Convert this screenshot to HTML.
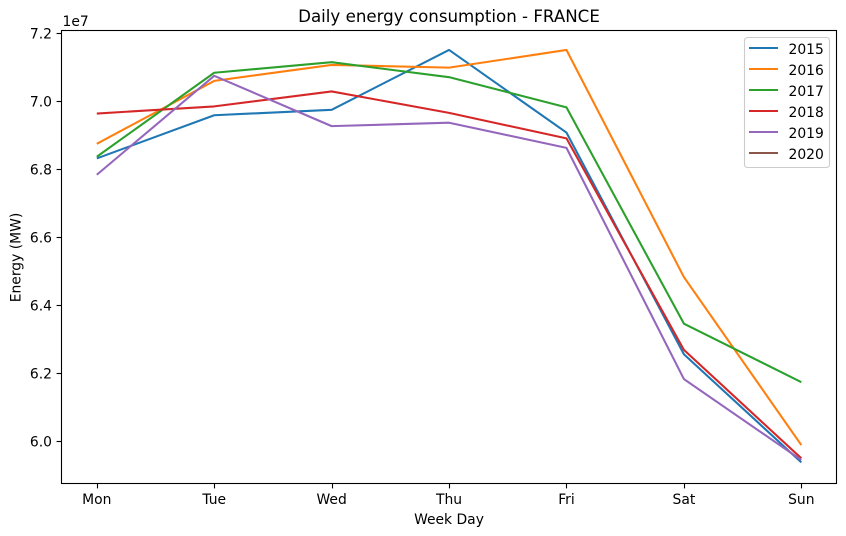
<!DOCTYPE html>
<html>
<head>
<meta charset="utf-8">
<title>Daily energy consumption - FRANCE</title>
<style>
html,body{margin:0;padding:0;background:#fff;}
svg{display:block;}
text{font-family:"DejaVu Sans","Liberation Sans",sans-serif;fill:#000;}
</style>
</head>
<body>
<svg id="chart" xmlns="http://www.w3.org/2000/svg" width="846" height="536" viewBox="0 0 846 536">
<rect x="0" y="0" width="846" height="536" fill="#fff"/>
<text x="449" y="22" font-size="16.67" text-anchor="middle">Daily energy consumption - FRANCE</text>
<text x="62.5" y="26" font-size="13.89">1e7</text>
<text x="449" y="524" font-size="13.89" text-anchor="middle">Week Day</text>
<text transform="translate(20.5,257.5) rotate(-90)" font-size="13.89" text-anchor="middle">Energy (MW)</text>
<g id="ticks"></g>
<g id="series"></g>
<rect x="61.5" y="30.5" width="775" height="453" fill="none" stroke="#000" stroke-width="1.1"/>
<g id="legend">
<rect x="744.5" y="37.5" width="85" height="130" rx="3" fill="#fff" fill-opacity="0.8" stroke="#ccc" stroke-width="1.1"/>
</g>
</svg>
<script>
const days = ['Mon', 'Tue', 'Wed', 'Thu', 'Fri', 'Sat', 'Sun'];
const yTicks = [6.0, 6.2, 6.4, 6.6, 6.8, 7.0, 7.2];
const years = ['2015', '2016', '2017', '2018', '2019', '2020'];
const colors = ['#1f77b4', '#ff7f0e', '#2ca02c', '#d62728', '#9467bd', '#8c564b'];
const values2015 = [6.832, 6.959, 6.975, 7.151, 6.908, 6.256, 5.938];
const values2016 = [6.875, 7.060, 7.107, 7.099, 7.151, 6.483, 5.989];
const values2017 = [6.837, 7.084, 7.115, 7.071, 6.982, 6.346, 6.174];
const values2018 = [6.964, 6.985, 7.029, 6.966, 6.891, 6.269, 5.950];
const values2019 = [6.784, 7.075, 6.927, 6.937, 6.863, 6.183, 5.945];
const values2020 = [];
const allSeries = [values2015, values2016, values2017, values2018, values2019, values2020];

const NS = 'http://www.w3.org/2000/svg';
function xScale(i) { return 96.8 + i * 117.42; }
function yScale(v) { return 441.3 - (v - 6.0) * 340; }
function make(tag, attrs, parent) {
  const el = document.createElementNS(NS, tag);
  Object.keys(attrs).forEach(function (k) { el.setAttribute(k, attrs[k]); });
  parent.appendChild(el);
  return el;
}

const ticksG = document.getElementById('ticks');
days.forEach(function (d, i) {
  const x = xScale(i);
  const snapX = Math.round(x) + 0.5;
  const tick = make('line', { x1: snapX, x2: snapX, y1: 483.5, y2: 488.4, stroke: '#000', 'stroke-width': 1.1 }, ticksG);
  
  
  const label = make('text', { x: x, y: 504, 'font-size': 13.89, 'text-anchor': 'middle' }, ticksG);
  label.textContent = d;
  
  
});
yTicks.forEach(function (v) {
  const y = yScale(v);
  const snapY = Math.floor(y) + 0.5;
  const tick = make('line', { x1: 56.6, x2: 61.5, y1: snapY, y2: snapY, stroke: '#000', 'stroke-width': 1.1 }, ticksG);
  
  
  const label = make('text', { x: 52, y: y + 5, 'font-size': 13.89, 'text-anchor': 'end' }, ticksG);
  label.textContent = v.toFixed(1);
  
  
});

const seriesG = document.getElementById('series');
allSeries.forEach(function (vals, s) {
  const pts = vals.map(function (v, i) { return xScale(i).toFixed(2) + ',' + yScale(v).toFixed(2); }).join(' ');
  const line = make('polyline', { points: pts, fill: 'none', stroke: colors[s], 'stroke-width': 2.08, 'stroke-linejoin': 'round', 'stroke-linecap': 'butt' }, seriesG);
  
  
});

const legendG = document.getElementById('legend');
years.forEach(function (yr, i) {
  const y = 48 + i * 21;
  const handle = make('line', { x1: 749, x2: 778, y1: y, y2: y, stroke: colors[i], 'stroke-width': 2.08 }, legendG);
  
  
  const label = make('text', { x: 788.5, y: y + 6, 'font-size': 13.89 }, legendG);
  label.textContent = yr;
  
  
});
</script>
</body>
</html>
